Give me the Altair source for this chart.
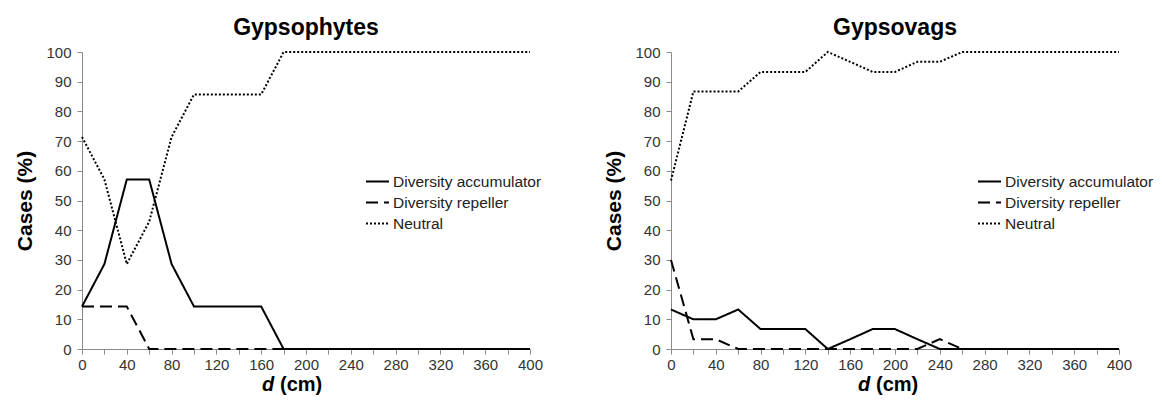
import altair as alt
import pandas as pd

d_cm = [0, 20, 40, 60, 80, 100, 120, 140, 160, 180, 200,
        220, 240, 260, 280, 300, 320, 340, 360, 380, 400]

series_names = ["Diversity accumulator", "Diversity repeller", "Neutral"]

# Gypsophytes
gyph_acc = [14.3, 28.6, 57.1, 57.1, 28.6, 14.3, 14.3, 14.3, 14.3, 0, 0,
            0, 0, 0, 0, 0, 0, 0, 0, 0, 0]
gyph_rep = [14.3, 14.3, 14.3, 0, 0, 0, 0, 0, 0, 0, 0,
            0, 0, 0, 0, 0, 0, 0, 0, 0, 0]
gyph_neu = [71.4, 57.1, 28.6, 42.9, 71.4, 85.7, 85.7, 85.7, 85.7, 100, 100,
            100, 100, 100, 100, 100, 100, 100, 100, 100, 100]

# Gypsovags
gyva_acc = [13.3, 10.0, 10.0, 13.3, 6.7, 6.7, 6.7, 0, 3.3, 6.7, 6.7,
            3.3, 0, 0, 0, 0, 0, 0, 0, 0, 0]
gyva_rep = [30.0, 3.3, 3.3, 0, 0, 0, 0, 0, 0, 0, 0,
            0, 3.3, 0, 0, 0, 0, 0, 0, 0, 0]
gyva_neu = [56.7, 86.7, 86.7, 86.7, 93.3, 93.3, 93.3, 100, 96.7, 93.3, 93.3,
            96.7, 96.7, 100, 100, 100, 100, 100, 100, 100, 100]

FONT = "Liberation Sans"
W, H = 448, 297


def make_df(acc, rep, neu):
    rows = []
    for name, vals in zip(series_names, [acc, rep, neu]):
        for x, v in zip(d_cm, vals):
            rows.append({"d": x, "value": v, "series": name})
    return pd.DataFrame(rows)


def panel(title, acc, rep, neu, legend_x, xt_x):
    df = make_df(acc, rep, neu)
    lines = alt.Chart(df).mark_line(strokeWidth=2, color="black").encode(
        x=alt.X("d:Q", scale=alt.Scale(domain=[0, 400], nice=False),
                axis=alt.Axis(values=list(range(0, 401, 20)),
                              labelExpr="datum.value % 40 == 0 ? datum.label : ''",
                              title=None, grid=False, tickSize=5,
                              labelPadding=3, labelFlush=False)),
        y=alt.Y("value:Q", scale=alt.Scale(domain=[0, 100], nice=False),
                axis=alt.Axis(values=list(range(0, 101, 10)), title="Cases (%)",
                              grid=False, tickSize=5, labelPadding=6,
                              titlePadding=10)),
        strokeDash=alt.StrokeDash(
            "series:N",
            scale=alt.Scale(domain=series_names,
                            range=[[1, 0], [12, 6], [2, 2]]),
            legend=alt.Legend(title=None, orient="none",
                              legendX=legend_x, legendY=117,
                              symbolType="stroke", symbolSize=529,
                              symbolStrokeWidth=2, symbolStrokeColor="black",
                              labelFont=FONT, labelFontSize=15.5,
                              labelColor="#222222", labelOffset=3,
                              rowPadding=-2, padding=0)),
        order="d:Q",
    )
    t1 = alt.Chart(pd.DataFrame({"t": ["d"]})).mark_text(
        font=FONT, fontSize=20, fontWeight="bold", fontStyle="italic",
        align="left", baseline="alphabetic", color="black"
    ).encode(text="t:N", x=alt.value(xt_x), y=alt.value(H + 42))
    t2 = alt.Chart(pd.DataFrame({"t": ["(cm)"]})).mark_text(
        font=FONT, fontSize=20, fontWeight="bold",
        align="left", baseline="alphabetic", color="black"
    ).encode(text="t:N", x=alt.value(xt_x + 18), y=alt.value(H + 42))
    return alt.layer(lines, t1, t2).properties(
        width=W, height=H,
        title=alt.TitleParams(title, fontSize=23, font=FONT,
                              fontWeight="bold", color="black",
                              anchor="middle", offset=5),
    )


left = panel("Gypsophytes", gyph_acc, gyph_rep, gyph_neu, 283, 180)
right = panel("Gypsovags", gyva_acc, gyva_rep, gyva_neu, 306, 187)

chart = alt.hconcat(left, right, spacing=60).resolve_scale(
    strokeDash="independent"
).resolve_legend(strokeDash="independent").properties(
    padding={"left": 6, "top": 9, "right": 0, "bottom": 0}
).configure_view(stroke=None).configure_axis(
    domainColor="#8a8a8a", tickColor="#8a8a8a", labelColor="#333333",
    labelFont=FONT, labelFontSize=15, titleFont=FONT, titleFontSize=21,
    titleFontWeight="bold", titleColor="black"
)

chart.save("out.html", embed_options={"renderer": "svg", "actions": False})
